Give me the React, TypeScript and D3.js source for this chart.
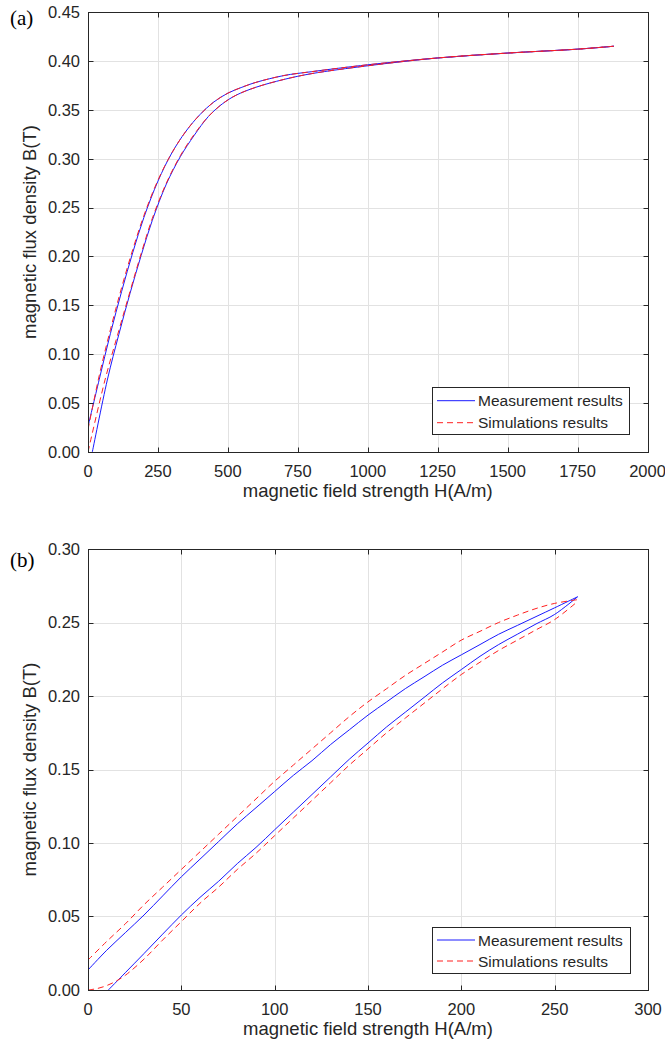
import React from 'react';
import * as d3 from 'd3';

// ---------- Panel (a) data ----------
const aXTicks = [0, 250, 500, 750, 1000, 1250, 1500, 1750, 2000];
const aYTicks = [0, 0.05, 0.1, 0.15, 0.2, 0.25, 0.3, 0.35, 0.4, 0.45];

const aMeasUpH = [0, 40, 80, 120, 160, 200, 250, 300, 350, 400, 450, 500, 550, 600, 700, 800, 1000, 1250, 1500, 1750, 1880];
const aMeasUpB = [0.026, 0.074, 0.121, 0.164, 0.204, 0.24, 0.277, 0.306, 0.328, 0.345, 0.358, 0.367, 0.373, 0.378, 0.385, 0.389, 0.396, 0.403, 0.408, 0.412, 0.415];
const aMeasLoH = [15.5, 69, 110, 150, 190, 230, 280, 330, 380, 430, 480, 530, 600, 700, 800, 1000, 1250, 1500, 1750, 1880];
const aMeasLoB = [0, 0.0736, 0.12, 0.162, 0.201, 0.237, 0.274, 0.302, 0.324, 0.343, 0.356, 0.365, 0.373, 0.381, 0.387, 0.395, 0.403, 0.408, 0.412, 0.415];
const aSimUpH = [0, 40, 80, 120, 160, 200, 250, 300, 350, 400, 450, 500, 550, 600, 700, 800, 1000, 1250, 1500, 1750, 1880];
const aSimUpB = [0.023, 0.078, 0.125, 0.168, 0.207, 0.242, 0.278, 0.306, 0.328, 0.345, 0.358, 0.367, 0.373, 0.378, 0.385, 0.389, 0.396, 0.403, 0.408, 0.412, 0.415];
const aSimLoH = [0, 60.7, 110, 150, 190, 230, 280, 330, 380, 430, 480, 530, 600, 700, 800, 1000, 1250, 1500, 1750, 1880];
const aSimLoB = [0, 0.0736, 0.124, 0.164, 0.203, 0.239, 0.275, 0.303, 0.325, 0.343, 0.356, 0.365, 0.373, 0.381, 0.387, 0.395, 0.403, 0.408, 0.412, 0.415];

// ---------- Panel (b) data ----------
const bXTicks = [0, 50, 100, 150, 200, 250, 300];
const bYTicks = [0, 0.05, 0.1, 0.15, 0.2, 0.25, 0.3];

const bMeasUpH = [0, 10, 20, 30, 40, 50, 60, 70, 80, 90, 100, 110, 120, 130, 140, 150, 160, 170, 180, 190, 200, 210, 220, 230, 240, 250, 262.3];
const bMeasUpB = [0.0136, 0.027, 0.039, 0.051, 0.064, 0.077, 0.089, 0.101, 0.113, 0.124, 0.135, 0.146, 0.156, 0.167, 0.177, 0.187, 0.196, 0.205, 0.213, 0.221, 0.228, 0.235, 0.242, 0.248, 0.254, 0.26, 0.2675];
const bMeasLoH = [10.9, 20, 30, 40, 50, 60, 70, 80, 90, 100, 110, 120, 130, 140, 150, 160, 170, 180, 190, 200, 210, 220, 230, 240, 250, 262.3];
const bMeasLoB = [0, 0.0118, 0.0248, 0.038, 0.051, 0.063, 0.074, 0.086, 0.097, 0.109, 0.121, 0.133, 0.145, 0.157, 0.168, 0.179, 0.189, 0.199, 0.209, 0.218, 0.227, 0.235, 0.242, 0.249, 0.2555, 0.2675];
const bSimUpH = [0, 10, 20, 30, 40, 50, 60, 70, 80, 90, 100, 110, 120, 130, 140, 150, 160, 170, 180, 190, 200, 210, 220, 230, 240, 250, 262];
const bSimUpB = [0.0204, 0.033, 0.045, 0.058, 0.07, 0.082, 0.094, 0.106, 0.118, 0.13, 0.142, 0.153, 0.164, 0.175, 0.186, 0.196, 0.205, 0.214, 0.222, 0.23, 0.238, 0.244, 0.25, 0.255, 0.2595, 0.263, 0.2655];
const bSimLoH = [0, 5, 10, 15, 20, 30, 40, 50, 60, 70, 80, 90, 100, 110, 120, 130, 140, 150, 160, 170, 180, 190, 200, 210, 220, 230, 240, 250, 262];
const bSimLoB = [0, 0.001, 0.003, 0.006, 0.01, 0.021, 0.034, 0.0465, 0.059, 0.07, 0.082, 0.093, 0.105, 0.117, 0.129, 0.141, 0.153, 0.164, 0.175, 0.185, 0.195, 0.205, 0.2146, 0.223, 0.231, 0.238, 0.245, 0.252, 0.264];

const legendLabels = ['Measurement results', 'Simulations results'];
const xLabel = 'magnetic field strength H(A/m)';
const yLabel = 'magnetic flux density B(T)';

const SANS = "'Liberation Sans', Arial, Helvetica, sans-serif";
const SERIF = "'Liberation Serif', 'Times New Roman', serif";
const AX = '#262626';
const GRID = '#e2e2e2';
const BLUE = '#1a1aff';
const RED = '#ff2020';

type Series = { h: number[]; b: number[]; kind: 'meas' | 'sim' };

interface PanelProps {
  id: string;
  tag: string;
  tagY: number;
  left: number; right: number; top: number; bottom: number;
  xDomain: [number, number]; yDomain: [number, number];
  xTicks: number[]; yTicks: number[];
  series: Series[];
  legend: { x0: number; x1: number; y0: number; y1: number; r1: number; r2: number };
}

function Panel(p: PanelProps) {
  const x = d3.scaleLinear().domain(p.xDomain).range([p.left, p.right]);
  const y = d3.scaleLinear().domain(p.yDomain).range([p.bottom, p.top]);
  const line = d3.line<[number, number]>()
    .x(d => x(d[0])).y(d => y(d[1])).curve(d3.curveCatmullRom.alpha(0.5));
  const cx = (v: number) => Math.round(x(v)) + 0.5;
  const cy = (v: number) => Math.round(y(v)) + 0.5;
  const L = Math.round(p.left) + 0.5, R = Math.round(p.right) + 0.5;
  const T = Math.round(p.top) + 0.5, B = Math.round(p.bottom) + 0.5;
  const tl = 5;
  const lg = p.legend;
  return (
    <g>
      <defs>
        <clipPath id={'clip' + p.id}>
          <rect x={p.left} y={p.top - 2} width={p.right - p.left} height={p.bottom - p.top + 2} />
        </clipPath>
      </defs>
      <rect x={p.left} y={p.top} width={p.right - p.left} height={p.bottom - p.top} fill="#fff" />
      {p.xTicks.map(t => (
        <line key={'gx' + t} x1={cx(t)} x2={cx(t)} y1={T} y2={B} stroke={GRID} strokeWidth={1} />
      ))}
      {p.yTicks.map(t => (
        <line key={'gy' + t} x1={L} x2={R} y1={cy(t)} y2={cy(t)} stroke={GRID} strokeWidth={1} />
      ))}
      <g clipPath={`url(#clip${p.id})`}>
        {p.series.map((s, i) => (
          <path key={i}
            d={line(s.h.map((h, j) => [h, s.b[j]] as [number, number])) || ''}
            fill="none"
            stroke={s.kind === 'meas' ? BLUE : RED}
            strokeWidth={1}
            strokeDasharray={s.kind === 'sim' ? '6,4' : undefined} />
        ))}
      </g>
      <rect x={L} y={T} width={R - L} height={B - T} fill="none" stroke={AX} strokeWidth={1} />
      {p.xTicks.map(t => (
        <g key={'tx' + t}>
          <line x1={cx(t)} x2={cx(t)} y1={B} y2={B - tl} stroke={AX} />
          <line x1={cx(t)} x2={cx(t)} y1={T} y2={T + tl} stroke={AX} />
          <text x={x(t)} y={p.bottom + 25} textAnchor="middle" fontFamily={SANS} fontSize={16.5} fill={AX}>{t}</text>
        </g>
      ))}
      {p.yTicks.map(t => (
        <g key={'ty' + t}>
          <line x1={L} x2={L + tl} y1={cy(t)} y2={cy(t)} stroke={AX} />
          <line x1={R} x2={R - tl} y1={cy(t)} y2={cy(t)} stroke={AX} />
          <text x={p.left - 8} y={y(t)} dy="0.36em" textAnchor="end" fontFamily={SANS} fontSize={16.5} fill={AX}>{t.toFixed(2)}</text>
        </g>
      ))}
      <text x={(p.left + p.right) / 2} y={p.bottom + 45} textAnchor="middle" fontFamily={SANS} fontSize={18.5} fill={AX}>{xLabel}</text>
      <text transform={`translate(35.5,${(p.top + p.bottom) / 2}) rotate(-90)`} textAnchor="middle" fontFamily={SANS} fontSize={18.5} fill={AX}>{yLabel}</text>
      <text x={10} y={p.tagY} fontFamily={SERIF} fontSize={21} fill="#000">{p.tag}</text>
      <rect x={lg.x0 + 0.5} y={lg.y0 + 0.5} width={lg.x1 - lg.x0} height={lg.y1 - lg.y0} fill="#fff" stroke={AX} strokeWidth={1} />
      <line x1={lg.x0 + 5} x2={lg.x0 + 43} y1={lg.r1} y2={lg.r1} stroke={BLUE} strokeWidth={1} />
      <line x1={lg.x0 + 5} x2={lg.x0 + 43} y1={lg.r2} y2={lg.r2} stroke={RED} strokeWidth={1} strokeDasharray="6,4" />
      <text x={lg.x0 + 46} y={lg.r1} dy="0.36em" fontFamily={SANS} fontSize={15.5} fill={AX}>{legendLabels[0]}</text>
      <text x={lg.x0 + 46} y={lg.r2} dy="0.36em" fontFamily={SANS} fontSize={15.5} fill={AX}>{legendLabels[1]}</text>
    </g>
  );
}

export default function App() {
  return (
    <svg width={665} height={1048} style={{ position: 'absolute', left: 0, top: 0, background: '#fff' }}
      xmlns="http://www.w3.org/2000/svg">
      <rect x={0} y={0} width={665} height={1048} fill="#fff" />
      <Panel id="a" tag="(a)" tagY={25}
        left={88} right={647.5} top={12} bottom={452}
        xDomain={[0, 2000]} yDomain={[0, 0.45]}
        xTicks={aXTicks} yTicks={aYTicks}
        series={[
          { h: aMeasUpH, b: aMeasUpB, kind: 'meas' },
          { h: aMeasLoH, b: aMeasLoB, kind: 'meas' },
          { h: aSimUpH, b: aSimUpB, kind: 'sim' },
          { h: aSimLoH, b: aSimLoB, kind: 'sim' },
        ]}
        legend={{ x0: 432, x1: 629, y0: 387, y1: 434, r1: 400.7, r2: 422.7 }} />
      <Panel id="b" tag="(b)" tagY={567}
        left={88} right={648} top={549} bottom={990}
        xDomain={[0, 300]} yDomain={[0, 0.3]}
        xTicks={bXTicks} yTicks={bYTicks}
        series={[
          { h: bMeasUpH, b: bMeasUpB, kind: 'meas' },
          { h: bMeasLoH, b: bMeasLoB, kind: 'meas' },
          { h: bSimUpH, b: bSimUpB, kind: 'sim' },
          { h: bSimLoH, b: bSimLoB, kind: 'sim' },
        ]}
        legend={{ x0: 432, x1: 630, y0: 927, y1: 973, r1: 940, r2: 961 }} />
    </svg>
  );
}
